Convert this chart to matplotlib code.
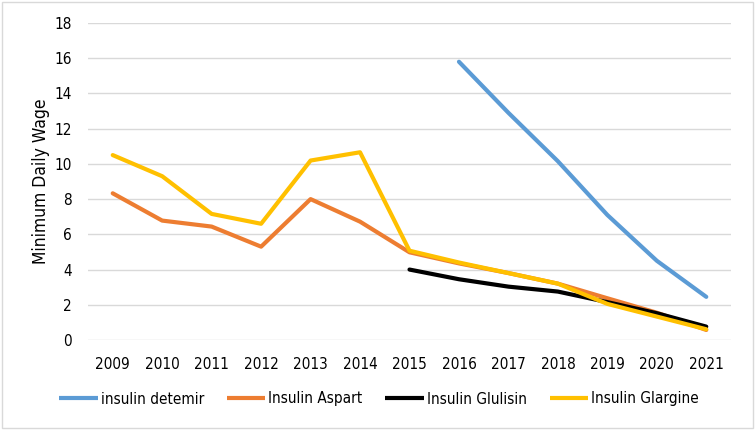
import matplotlib
matplotlib.use("Agg")
import matplotlib.pyplot as plt
from matplotlib.patches import Rectangle
from matplotlib import font_manager
from matplotlib.font_manager import FontProperties
import numpy as np

plt.rcParams['font.family'] = ['Liberation Sans', 'DejaVu Sans']

# look for a condensed face (closer to the narrow Calibri-like text of the reference)
cond = None
for f in font_manager.fontManager.ttflist:
    n = (f.name + ' ' + f.fname).lower()
    if ('narrow' in n or 'condensed' in n) and 'bold' not in n and 'italic' not in n \
            and 'oblique' not in n and 'mono' not in n and 'serif' not in n:
        cond = f.fname
        break

years = ['2009', '2010', '2011', '2012', '2013', '2014', '2015', '2016',
         '2017', '2018', '2019', '2020', '2021']
nan = np.nan
detemir = [nan, nan, nan, nan, nan, nan, nan, 15.8, 12.9, 10.15, 7.1, 4.5, 2.45]
aspart = [8.33, 6.78, 6.44, 5.3, 8.0, 6.72, 4.98, 4.35, 3.8, 3.2, 2.37, 1.55, 0.57]
glulisin = [nan, nan, nan, nan, nan, nan, 4.0, 3.45, 3.03, 2.75, 2.15, 1.52, 0.76]
glargine = [10.5, 9.3, 7.16, 6.6, 10.19, 10.66, 5.07, 4.4, 3.8, 3.2, 2.05, 1.33, 0.61]

series = [
    ('insulin detemir', detemir, '#5B9BD5'),
    ('Insulin Aspart', aspart, '#ED7D31'),
    ('Insulin Glulisin', glulisin, '#000000'),
    ('Insulin Glargine', glargine, '#FFC000'),
]

def fp(size):
    if cond:
        return FontProperties(fname=cond, size=size)
    return FontProperties(family=['Liberation Sans', 'DejaVu Sans'], size=size * 0.88)

fig = plt.figure(figsize=(7.55, 4.3), dpi=100)
ax = fig.add_axes([88/755, 1-340/430, (731-88)/755, (340-23)/430])

x = np.arange(len(years))
for name, vals, col in series:
    ax.plot(x, vals, color=col, lw=3, label=name, solid_capstyle='round',
            solid_joinstyle='round')

ax.set_xlim(-0.5, len(years) - 0.5)
ax.set_ylim(0, 18)
ax.set_yticks(np.arange(0, 19, 2))
ax.set_xticks(x)
ax.set_xticklabels(years)
ax.grid(axis='y', color='#d9d9d9', lw=1)
ax.set_axisbelow(True)
for s in ax.spines.values():
    s.set_visible(False)
ax.tick_params(length=0, colors='#000000')
ax.tick_params(axis='x', pad=12)
ax.tick_params(axis='y', pad=11.5)
for lbl in ax.get_xticklabels() + ax.get_yticklabels():
    lbl.set_fontproperties(fp(11))
ax.set_ylabel('Minimum Daily Wage', fontproperties=fp(12.5), labelpad=3.5)

leg = fig.legend(loc='center', bbox_to_anchor=(379/755, 1-399/430), ncol=4,
                 frameon=False, prop=fp(11), handlelength=2.5,
                 handletextpad=0.2, columnspacing=1.5)
for h in leg.legend_handles:
    h.set_solid_capstyle('butt')

fig.patches.append(Rectangle((2/755, 2/430), 1-4/755, 1-4/430,
                             transform=fig.transFigure, fill=False,
                             edgecolor='#d9d9d9', lw=1))

fig.savefig('out.png', dpi=100)
